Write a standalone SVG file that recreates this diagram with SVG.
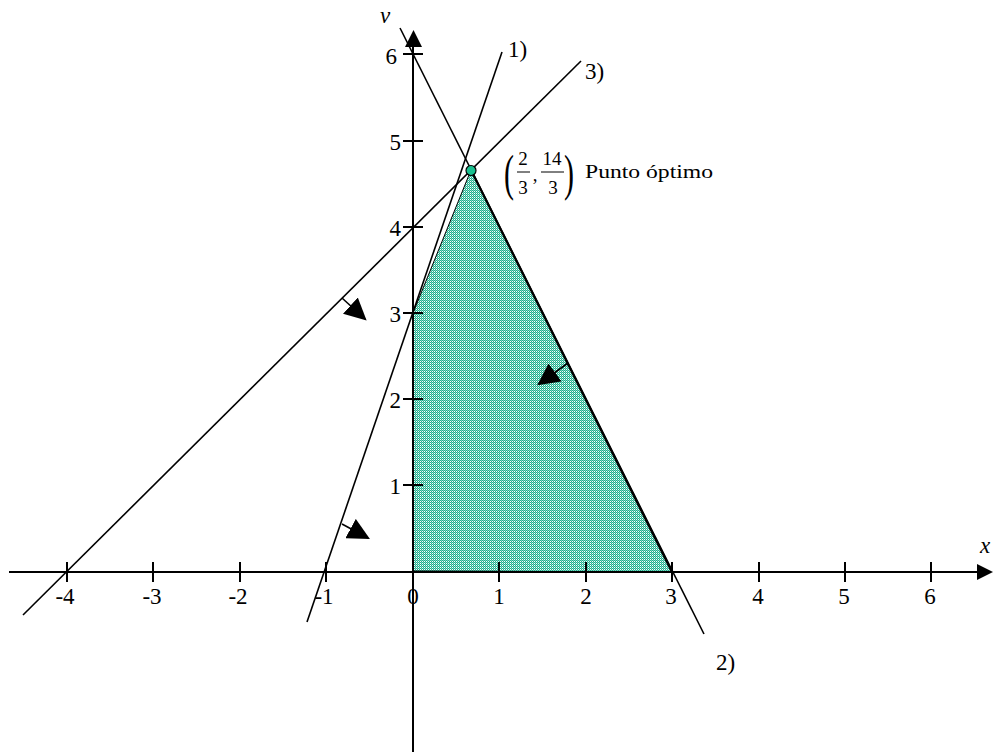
<svg xmlns="http://www.w3.org/2000/svg" width="993" height="752" viewBox="0 0 993 752">
<style>
.ax{stroke:#000;stroke-width:2;fill:none}
.ln{stroke:#000;stroke-width:1.6;fill:none}
.tk{stroke:#000;stroke-width:2}
.t{font-family:"Liberation Serif","DejaVu Serif",serif;font-size:23px;fill:#000}
.tx{text-anchor:middle}
.ty{text-anchor:end}
.it{font-style:italic}
.f{font-family:"Liberation Serif","DejaVu Serif",serif;font-size:19px;fill:#000;text-anchor:middle}
</style>
<defs>
<pattern id="hatch" width="2" height="2" patternUnits="userSpaceOnUse">
<rect width="2" height="2" fill="#ffffff"/>
<rect width="1" height="1" fill="#1fae8c"/>
<rect x="1" y="1" width="1" height="1" fill="#1fae8c"/>
<rect x="1" y="0" width="1" height="1" fill="#7fd6c0"/>
</pattern>
<marker id="ah" viewBox="0 0 10 10" refX="9" refY="5" markerWidth="22" markerHeight="22" markerUnits="userSpaceOnUse" orient="auto">
<path d="M0,0 L10,5 L0,10 Z" fill="#000"/>
</marker>
</defs>
<g id="region">
<polygon points="413,571 413,313 471,170 672,572" fill="url(#hatch)" stroke="#000" stroke-width="1"/>
<line x1="471" y1="170" x2="672" y2="572" stroke="#000" stroke-width="2.2"/>
</g>
<g id="axes">
<line class="ax" x1="9" y1="572" x2="980" y2="572"/>
<polygon points="977,564 993,572 977,580" fill="#000"/>
<line class="ax" x1="413" y1="752" x2="413" y2="44"/>
<polygon points="405,47 413.5,30 422,47" fill="#000"/>
<g class="tk">
<line x1="67" y1="562" x2="67" y2="582"/>
<line x1="153" y1="562" x2="153" y2="582"/>
<line x1="240" y1="562" x2="240" y2="582"/>
<line x1="326" y1="562" x2="326" y2="582"/>
<line x1="499" y1="562" x2="499" y2="582"/>
<line x1="586" y1="562" x2="586" y2="582"/>
<line x1="672" y1="562" x2="672" y2="582"/>
<line x1="759" y1="562" x2="759" y2="582"/>
<line x1="845" y1="562" x2="845" y2="582"/>
<line x1="931" y1="562" x2="931" y2="582"/>
<line x1="403" y1="485" x2="423" y2="485"/>
<line x1="403" y1="399" x2="423" y2="399"/>
<line x1="403" y1="313" x2="423" y2="313"/>
<line x1="403" y1="227" x2="423" y2="227"/>
<line x1="403" y1="141" x2="423" y2="141"/>
<line x1="403" y1="54" x2="423" y2="54"/>
</g>
<g class="t tx">
<text x="65" y="604">-4</text>
<text x="152" y="604">-3</text>
<text x="238" y="604">-2</text>
<text x="324" y="604">-1</text>
<text x="413" y="604">0</text>
<text x="499" y="604">1</text>
<text x="586" y="604">2</text>
<text x="671" y="604">3</text>
<text x="758" y="604">4</text>
<text x="844" y="604">5</text>
<text x="930" y="604">6</text>
</g>
<g class="t ty">
<text x="401" y="494">1</text>
<text x="401" y="408">2</text>
<text x="401" y="322">3</text>
<text x="401" y="236">4</text>
<text x="401" y="150">5</text>
<text x="397" y="64">6</text>
</g>
<text class="t it" x="380" y="23">v</text>
<text class="t it" x="980" y="553">x</text>
</g>
<g id="connectors">
<line id="line1" class="ln" x1="307" y1="622" x2="502" y2="52"/>
<line id="line2" class="ln" x1="400" y1="28" x2="704" y2="634"/>
<line id="line3" class="ln" x1="23" y1="615" x2="581" y2="61"/>
<line class="ln" x1="342" y1="298" x2="365" y2="319" marker-end="url(#ah)"/>
<line class="ln" x1="568" y1="363" x2="539" y2="384" marker-end="url(#ah)"/>
<line class="ln" x1="342" y1="524" x2="368" y2="538" marker-end="url(#ah)"/>
</g>
<g id="labels">
<text class="t" x="508" y="57">1)</text>
<text class="t" x="585" y="79">3)</text>
<text class="t" x="716" y="670">2)</text>
</g>
<g id="optimum">
<circle cx="471" cy="170.5" r="5" fill="#19c08f" stroke="#000" stroke-width="1.2"/>
<text x="509" y="190" font-family="Liberation Serif, DejaVu Serif, serif" font-size="50" text-anchor="middle" transform="translate(509 172) scale(0.6 1) translate(-509 -172)">(</text>
<text class="f" x="523" y="165">2</text>
<line x1="517" y1="172" x2="530" y2="172" stroke="#000" stroke-width="1"/>
<text class="f" x="523" y="194">3</text>
<text class="f" x="535" y="181">,</text>
<text class="f" x="552" y="165">14</text>
<line x1="541" y1="172" x2="564" y2="172" stroke="#000" stroke-width="1"/>
<text class="f" x="553" y="194">3</text>
<text x="569" y="190" font-family="Liberation Serif, DejaVu Serif, serif" font-size="50" text-anchor="middle" transform="translate(569 172) scale(0.6 1) translate(-569 -172)">)</text>
<text x="585" y="178" font-family="Liberation Serif, DejaVu Serif, serif" font-size="19" fill="#000" textLength="128" lengthAdjust="spacingAndGlyphs">Punto óptimo</text>
</g>
</svg>
